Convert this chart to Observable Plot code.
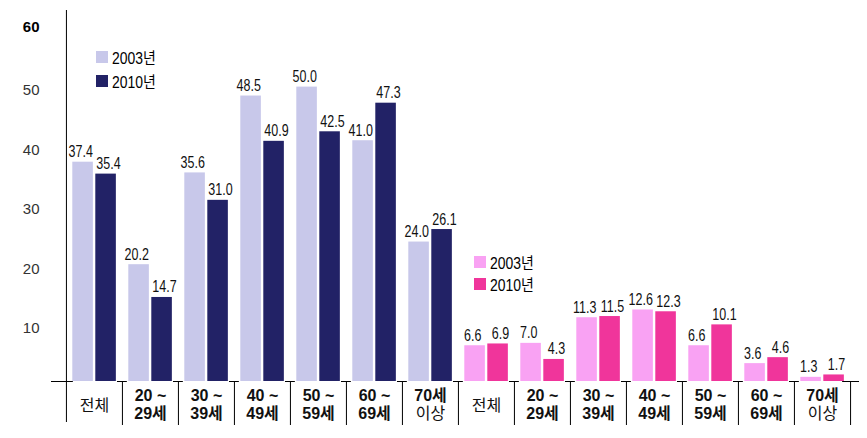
<!DOCTYPE html>
<html><head><meta charset="utf-8">
<script src="https://cdn.jsdelivr.net/npm/d3@7"></script>
<script src="https://cdn.jsdelivr.net/npm/@observablehq/plot@0.6"></script>
<style>
body{margin:0;background:#fff;}
#wrap{position:relative;width:867px;height:438px;}
.lg{position:absolute;display:flex;align-items:center;height:20px;font-family:'Liberation Sans','Noto Sans CJK KR',sans-serif;font-size:16px;color:#000;white-space:nowrap;}
.lg .sw{width:12px;height:12px;margin-right:4px;flex:none;}
.lg span{display:inline-block;transform:scaleX(0.87);transform-origin:left center;}
</style></head><body><div id="wrap"></div>
<script>
// ---- data ----
const categories = ["전체","20 ~ 29세","30 ~ 39세","40 ~ 49세","50 ~ 59세","60 ~ 69세","70세 이상"];
const sexes = ["남자","여자"];
const years = ["2003년","2010년"];
const male2003 = [37.4,20.2,35.6,48.5,50.0,41.0,24.0];
const male2010 = [35.4,14.7,31.0,40.9,42.5,47.3,26.1];
const female2003 = [6.6,7.0,11.3,12.6,6.6,3.6,1.3];
const female2010 = [6.9,4.3,11.5,12.3,10.1,4.6,1.7];
const yTicks = [10,20,30,40,50];
const yTopTick = [60];

// ---- styling ----
const palette = {"남자 2003년":"#c8c8ea","남자 2010년":"#222266","여자 2003년":"#f9a2f3","여자 2010년":"#f0359b"};
const W=867,H=438,mL=65,mR=16,mT=27,mB=57;
const yMin=0.6;
const sans="'Liberation Sans','Noto Sans CJK KR',sans-serif";

const values = {"남자":{"2003년":male2003,"2010년":male2010},"여자":{"2003년":female2003,"2010년":female2010}};
const keys = sexes.flatMap(s=>categories.map(c=>s+"|"+c));
const bw=(W-mL-mR)/keys.length;
const rows=[];
sexes.forEach(s=>categories.forEach((c,ci)=>years.forEach(y=>rows.push({key:s+"|"+c,sex:s,cat:c,year:y,value:values[s][y][ci],series:s+" "+y}))));
const yr0=rows.filter(d=>d.year===years[0]), yr1=rows.filter(d=>d.year===years[1]);
const fmt=d3.format(".1f");

const labels=keys.map(k=>{const c=k.split("|")[1];let l1,l2;
  if(c.includes("~")){const p=c.split(" ~ ");l1=p[0]+" ~";l2=p[1];}
  else if(c.includes(" ")){const p=c.split(" ");l1=p[0];l2=p[1];}
  else {l1=c;l2="";}
  return {key:k,cat:c,l1,l2,range:c.includes("~"),single:l2===""};});

const fH=H-mT-mB;
const chart=Plot.plot({
  width:W,height:H,marginLeft:mL,marginRight:mR,marginTop:mT,marginBottom:mB,
  style:{background:"white",overflow:"visible",fontFamily:sans},
  x:{type:"band",domain:keys,padding:0,axis:null},
  y:{domain:[yMin,60],axis:null},
  color:{domain:Object.keys(palette),range:Object.values(palette)},
  marks:[
    Plot.barY(yr0,{x:"key",y:"value",fill:"series",clip:true,insetLeft:6.3,insetRight:bw-27}),
    Plot.barY(yr1,{x:"key",y:"value",fill:"series",clip:true,insetLeft:29.3,insetRight:bw-50}),
    Plot.text(yr0,{x:"key",y:"value",text:d=>fmt(d.value),dx:-13.8,dy:-5,lineAnchor:"bottom",fontSize:16,fill:"#111"}),
    Plot.text(yr1,{x:"key",y:"value",text:d=>fmt(d.value),dx:14,dy:-5,lineAnchor:"bottom",fontSize:16,fill:"#111"}),
    Plot.axisY(yTicks,{anchor:"left",tickSize:0,tickPadding:26,fontSize:15,fill:"#333",dy:3,label:null}),
    Plot.axisY(yTopTick,{anchor:"left",tickSize:0,tickPadding:26,fontSize:15,fontWeight:"bold",fill:"#000",label:null}),
    // axis line and separators
    Plot.ruleX([keys[0]],{x:d=>d,dx:-bw/2,insetTop:-17,insetBottom:-41,stroke:"#000"}),
    Plot.ruleX(keys.slice(1),{x:d=>d,dx:-bw/2,insetTop:fH,insetBottom:-44,stroke:"#000"}),
    Plot.ruleX([keys[keys.length-1]],{x:d=>d,dx:bw/2,insetTop:fH,insetBottom:-44,stroke:"#000"}),
    Plot.tickY([keys[0]],{x:d=>d,y:()=>yMin,dx:-bw/2,insetLeft:bw/2-15,insetRight:bw/2-7,stroke:"#000"}),
    Plot.tickY(keys.slice(1),{x:d=>d,y:()=>yMin,dx:-bw/2,insetLeft:bw/2-5,insetRight:bw/2-5,stroke:"#000"}),
    Plot.tickY([keys[keys.length-1]],{x:d=>d,y:()=>yMin,dx:bw/2,insetLeft:bw/2-8,insetRight:bw/2-9,stroke:"#000"}),
    // category labels
    Plot.text(labels.filter(d=>!d.single),{x:"key",text:"l1",frameAnchor:"bottom",dy:14,lineAnchor:"middle",fontSize:16,fontWeight:"bold",fill:"#111"}),
    Plot.text(labels.filter(d=>d.range),{x:"key",text:"l2",frameAnchor:"bottom",dy:32,lineAnchor:"middle",fontSize:16,fontWeight:"bold",fill:"#111"}),
    Plot.text(labels.filter(d=>!d.single&&!d.range),{x:"key",text:"l2",frameAnchor:"bottom",dy:32,lineAnchor:"middle",fontSize:16,fill:"#111"}),
    Plot.text(labels.filter(d=>d.single),{x:"key",text:"l1",frameAnchor:"bottom",dy:24,lineAnchor:"middle",fontSize:16,fill:"#111"})
  ]
});
const wrap=document.getElementById("wrap");
wrap.appendChild(chart);
// condense the value labels (the reference uses a narrow face)
const textGroups=chart.querySelectorAll('g[aria-label="text"]');
[textGroups[0],textGroups[1]].forEach(g=>g&&g.querySelectorAll("text").forEach(t=>{
  const len=t.getComputedTextLength();
  t.setAttribute("textLength",(len*0.78).toFixed(2));
  t.setAttribute("lengthAdjust","spacingAndGlyphs");
}));
// legends
const legends=[{sex:"남자",left:96,tops:[47,71]},{sex:"여자",left:474,tops:[252,274]}];
legends.forEach(L=>years.forEach((y,i)=>{
  const row=d3.select(wrap).append("div").attr("class","lg").style("left",L.left+"px").style("top",L.tops[i]+"px");
  row.append("div").attr("class","sw").style("background",palette[L.sex+" "+y]);
  row.append("span").text(y);
}));
</script>
</body></html>
